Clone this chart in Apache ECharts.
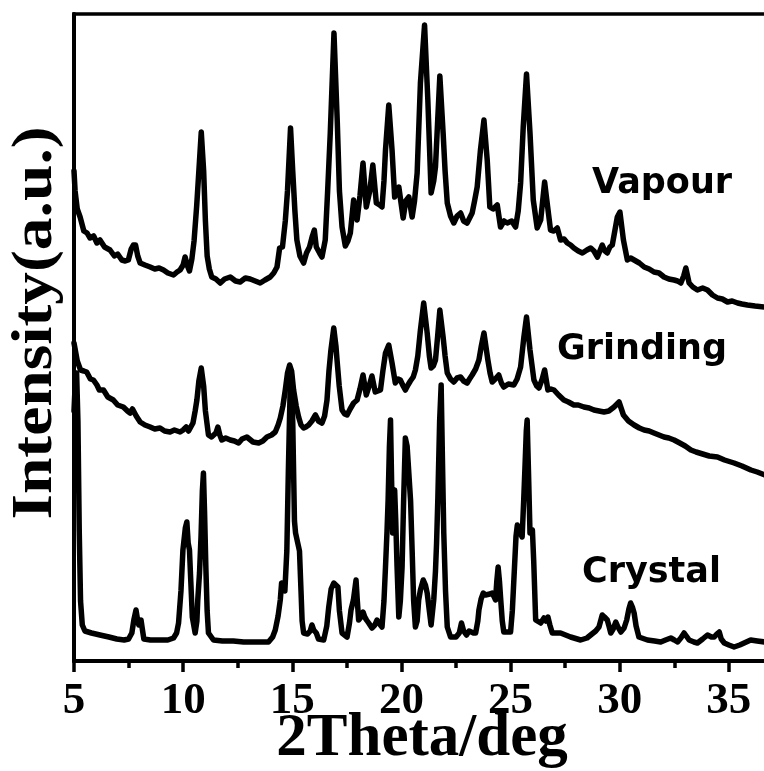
<!DOCTYPE html>
<html>
<head>
<meta charset="utf-8">
<script src="https://cdn.jsdelivr.net/npm/echarts@6/dist/echarts.min.js"></script>
<style>
  html, body { margin: 0; padding: 0; background: #fff; overflow: hidden; }
  #chart { width: 764px; height: 771px; }
</style>
</head>
<body>
<div id="chart"></div>
<script>
// Powder XRD patterns: 2θ (deg) and intensity (arbitrary units, offset per pattern)
const xTickLabels = [5, 10, 15, 20, 25, 30, 35];
const patternNames = ['Vapour', 'Grinding', 'Crystal'];

const vapourTheta = [5.00,5.05,5.15,5.28,5.45,5.6,5.73,5.9,6.05,6.19,6.4,6.65,6.85,7.0,7.19,7.35,7.49,7.62,7.72,7.82,7.92,8.03,8.25,8.49,8.7,8.9,9.1,9.3,9.56,9.72,9.86,10.0,10.09,10.2,10.29,10.40,10.50,10.62,10.72,10.83,10.94,11.02,11.10,11.2,11.31,11.5,11.7,11.9,12.16,12.4,12.61,12.85,13.07,13.3,13.53,13.75,13.99,14.15,14.3,14.42,14.55,14.68,14.78,14.92,15.02,15.12,15.21,15.35,15.52,15.65,15.79,15.92,16.01,16.1,16.25,16.36,16.51,16.62,16.74,16.91,17.06,17.16,17.28,17.43,17.55,17.66,17.81,17.9,17.97,18.1,18.24,18.39,18.55,18.69,18.85,19.0,19.11,19.2,19.27,19.42,19.57,19.69,19.8,19.88,20.08,20.2,20.34,20.49,20.6,20.72,20.87,21.06,21.21,21.36,21.48,21.56,21.66,21.76,21.91,22.0,22.1,22.25,22.4,22.55,22.71,22.85,23.01,23.24,23.35,23.47,23.62,23.78,23.93,24.05,24.2,24.39,24.54,24.7,24.85,25.05,25.23,25.35,25.46,25.58,25.73,25.89,26.04,26.22,26.38,26.56,26.66,26.83,26.98,27.14,27.29,27.45,27.6,27.75,27.9,28.1,28.29,28.5,28.67,28.82,28.98,29.2,29.32,29.43,29.55,29.66,29.89,30.01,30.17,30.35,30.5,30.66,30.9,31.12,31.35,31.57,31.8,32.03,32.25,32.49,32.65,32.8,32.93,33.03,33.18,33.35,33.56,33.8,34.02,34.25,34.48,34.7,34.94,35.15,35.4,35.6,35.85,36.2,36.65];
const vapourIntensity = [490,470,452,444,430,428,423,425,418,421,414,411,405,407,401,400,401,412,416,416,405,398,396,394,392,393,391,388,386,389,391,396,404,395,390,402,420,455,490,529,490,440,405,392,384,382,378,382,384,380,379,383,382,380,378,381,384,388,394,413,414,440,470,533,490,450,421,405,398,408,414,425,431,414,408,404,421,470,528,628,540,470,434,415,420,428,461,450,441,465,498,454,470,496,458,456,454,480,511,556,511,464,470,474,443,460,464,444,460,488,578,636,561,468,480,494,540,585,528,490,458,445,438,445,448,440,438,448,460,474,511,541,501,454,452,456,434,440,438,440,434,450,478,534,587,528,461,433,441,479,461,431,430,433,421,422,418,416,413,410,408,411,413,410,404,416,410,408,414,416,444,449,421,401,403,401,398,394,392,389,388,384,382,381,380,378,385,393,378,374,371,373,371,366,363,362,359,360,358,357,356,355,354];

const grindingTheta = [5.00,5.05,5.15,5.3,5.45,5.58,5.75,5.89,6.05,6.16,6.35,6.55,6.8,7.0,7.26,7.45,7.57,7.68,7.75,7.85,8.03,8.25,8.49,8.7,8.94,9.15,9.4,9.6,9.86,10.0,10.14,10.25,10.32,10.45,10.55,10.63,10.72,10.83,10.94,11.02,11.16,11.3,11.39,11.5,11.59,11.68,11.77,11.95,12.16,12.35,12.54,12.7,12.92,13.2,13.46,13.65,13.84,14.05,14.22,14.35,14.45,14.57,14.68,14.78,14.88,14.97,15.06,15.18,15.29,15.4,15.52,15.62,15.75,15.9,16.06,16.2,16.36,16.48,16.59,16.68,16.77,16.9,17.0,17.05,17.15,17.28,17.4,17.51,17.65,17.81,17.97,18.1,18.24,18.39,18.52,18.65,18.8,18.92,19.04,19.15,19.27,19.42,19.57,19.72,19.85,19.95,20.08,20.18,20.3,20.41,20.54,20.64,20.75,20.87,21.02,21.18,21.28,21.36,21.46,21.56,21.66,21.76,21.91,22.0,22.1,22.25,22.4,22.55,22.71,22.85,23.01,23.12,23.24,23.4,23.55,23.66,23.78,23.96,24.06,24.16,24.3,24.46,24.58,24.69,24.9,25.15,25.3,25.46,25.61,25.73,25.89,26.07,26.2,26.3,26.45,26.56,26.71,26.85,26.99,27.2,27.44,27.65,27.9,28.1,28.36,28.6,28.82,29.05,29.28,29.5,29.74,29.97,30.17,30.4,30.66,30.9,31.12,31.35,31.57,31.8,32.03,32.25,32.49,32.75,33.0,33.26,33.5,33.8,34.1,34.48,34.8,35.24,35.6,36.01,36.3,36.65];
const grindingIntensity = [318,312,300,291,290,289,282,281,276,271,271,264,261,256,254,250,248,252,253,245,239,236,234,232,233,230,229,231,229,231,234,230,228,238,250,261,280,293,275,250,226,224,223,228,234,226,221,223,221,220,218,222,224,219,218,220,224,226,229,236,243,255,271,288,296,290,271,255,244,236,233,234,236,240,246,240,238,245,261,290,311,333,315,301,275,251,247,246,252,258,261,272,286,266,275,285,269,270,271,290,308,316,298,278,282,281,275,271,276,280,284,291,305,331,358,328,305,293,295,301,325,351,324,305,288,282,279,283,284,280,278,282,286,292,301,315,328,301,288,279,282,286,278,274,277,276,282,294,324,344,311,281,275,273,282,291,271,272,271,266,261,259,256,256,254,253,251,250,249,250,254,259,246,240,236,233,231,230,228,226,224,223,221,218,215,211,209,207,205,204,201,198,195,191,189,186];

const crystalTheta = [5.00,5.06,5.12,5.18,5.24,5.30,5.38,5.5,5.8,6.19,6.6,6.96,7.3,7.5,7.65,7.75,7.84,7.92,7.97,8.07,8.13,8.2,8.5,8.94,9.3,9.56,9.7,9.79,9.9,9.99,10.1,10.17,10.23,10.29,10.35,10.42,10.55,10.63,10.67,10.75,10.82,10.88,10.93,10.98,11.04,11.1,11.16,11.39,11.8,12.3,12.77,13.3,13.91,14.1,14.22,14.35,14.45,14.51,14.57,14.66,14.75,14.82,14.9,14.95,15.02,15.1,15.15,15.25,15.33,15.4,15.45,15.52,15.7,15.82,15.9,15.98,16.1,16.2,16.44,16.58,16.67,16.78,16.9,16.98,17.09,17.16,17.28,17.51,17.62,17.69,17.8,17.92,17.98,18.04,18.15,18.24,18.32,18.4,18.5,18.65,18.78,18.88,19.0,19.11,19.2,19.27,19.34,19.39,19.45,19.5,19.55,19.6,19.65,19.69,19.74,19.8,19.88,19.95,20.03,20.1,20.18,20.26,20.34,20.42,20.49,20.56,20.64,20.72,20.79,20.87,21.0,21.1,21.18,21.28,21.36,21.48,21.56,21.61,21.67,21.75,21.82,21.88,21.94,22.02,22.1,22.25,22.5,22.65,22.75,22.85,22.98,23.1,23.17,23.3,23.4,23.5,23.55,23.65,23.75,23.85,23.93,24.05,24.16,24.25,24.31,24.37,24.43,24.49,24.54,24.62,24.69,25.0,25.08,25.18,25.25,25.31,25.4,25.53,25.6,25.66,25.72,25.76,25.82,25.89,26.0,26.06,26.15,26.38,26.53,26.62,26.71,26.8,26.91,27.29,27.75,28.21,28.5,28.67,28.9,29.05,29.2,29.3,29.43,29.52,29.59,29.7,29.82,29.92,30.05,30.2,30.32,30.42,30.5,30.58,30.66,30.75,30.88,31.27,31.6,31.88,32.1,32.34,32.5,32.65,32.8,32.95,33.05,33.18,33.4,33.56,33.8,34.02,34.2,34.33,34.45,34.56,34.65,34.79,35.0,35.24,35.5,35.7,36.0,36.3,36.65];
const crystalIntensity = [250,280,288,240,130,60,36,30,28,26,24,22,21,22,28,42,51,40,36,41,32,22,21,21,21,23,28,38,70,111,133,139,118,111,80,44,28,40,61,88,125,170,188,150,94,50,28,21,20,20,19,19,19,24,31,45,61,78,78,70,110,190,270,290,240,140,128,118,110,70,40,28,27,30,36,31,28,22,21,35,54,72,78,76,74,50,28,24,38,51,61,81,60,41,44,49,44,41,38,33,36,41,37,34,60,94,130,161,215,241,180,128,155,171,140,94,44,60,94,160,223,215,213,160,111,60,34,40,61,71,81,76,68,50,36,61,90,118,164,240,276,200,128,70,34,24,24,28,38,30,26,30,31,28,28,40,51,62,68,66,66,67,68,64,61,80,94,80,64,40,29,29,50,94,125,136,130,124,160,194,230,241,190,128,131,100,41,38,43,40,44,36,28,28,24,21,23,26,30,34,46,44,41,34,28,32,39,34,29,33,41,52,58,54,48,35,24,21,20,19,21,23,21,19,23,28,25,21,19,18,22,26,24,24,27,29,22,18,16,14,16,18,21,20,19];

const zip = (xs, ys) => xs.map((x, i) => [x, ys[i]]);

const axisColor = '#000';
const serifFamily = 'Liberation Serif';

const chart = echarts.init(document.getElementById('chart'), null, { renderer: 'canvas', width: 764, height: 771 });

const lineSeries = (name, xs, ys) => ({
  name,
  type: 'line',
  xAxisIndex: 0,
  yAxisIndex: 0,
  data: zip(xs, ys),
  showSymbol: false,
  symbol: 'none',
  smooth: false,
  lineStyle: { color: '#000', width: 5.5, join: 'round', cap: 'round' },
  animation: false
});

// The frame runs on past the right edge of the page: the 2θ scale spans 5–40,
// of which the part beyond about 36.6 falls outside the canvas.
const xRange = { type: 'value', min: 5, max: 40, interval: 5 };

const option = {
  backgroundColor: '#fff',
  animation: false,
  grid: {
    left: 74, right: -74, top: 14, bottom: 110,
    containLabel: false,
    outerBoundsMode: 'none',
    show: true,
    borderColor: axisColor,
    borderWidth: 3.5,
    backgroundColor: 'transparent'
  },
  xAxis: [
    // labelled 2θ axis
    Object.assign({}, xRange, {
      position: 'bottom',
      name: '2Theta/deg',
      nameLocation: 'middle',
      nameGap: 48,
      nameMoveOverlap: false,
      nameTextStyle: {
        color: '#000',
        fontFamily: serifFamily,
        fontWeight: 'bold',
        fontSize: 61,
        // keeps the title centred under the visible part of the frame
        padding: [0, 68, 0, 0]
      },
      axisLine: { show: true, onZero: false, lineStyle: { color: axisColor, width: 4 } },
      axisTick: { show: false },
      minorTick: { show: false },
      splitLine: { show: false },
      axisLabel: {
        margin: 18,
        color: '#000',
        fontFamily: serifFamily,
        fontWeight: 'bold',
        fontSize: 45,
        formatter: v => (xTickLabels.includes(v) ? String(v) : '')
      }
    }),
    // major and minor tick marks along the same baseline
    Object.assign({}, xRange, {
      position: 'bottom',
      offset: 0,
      axisLine: { show: false },
      axisTick: { show: true, length: 11, lineStyle: { color: axisColor, width: 3.5 } },
      minorTick: { show: true, splitNumber: 2, length: 7, lineStyle: { color: axisColor, width: 3.5 } },
      axisLabel: { show: false },
      splitLine: { show: false }
    })
  ],
  yAxis: {
    type: 'value',
    min: 0,
    max: 647,
    axisLine: { show: true, onZero: false, lineStyle: { color: axisColor, width: 4 } },
    axisTick: { show: false },
    axisLabel: { show: false },
    splitLine: { show: false }
  },
  series: [
    lineSeries(patternNames[0], vapourTheta, vapourIntensity),
    lineSeries(patternNames[1], grindingTheta, grindingIntensity),
    lineSeries(patternNames[2], crystalTheta, crystalIntensity)
  ]
};

chart.setOption(option);

// Pattern captions anchored in data coordinates (left edge, vertical middle of the word)
const captionAnchors = [
  [28.73, 477],
  [27.13, 311],
  [28.27, 88]
];
const captions = patternNames.map((name, i) => {
  const [x, y] = chart.convertToPixel({ xAxisIndex: 0, yAxisIndex: 0 }, captionAnchors[i]);
  return {
    type: 'text',
    x, y,
    silent: true,
    style: {
      text: name,
      fill: '#000',
      font: 'bold 35px "DejaVu Sans", sans-serif',
      align: 'left',
      verticalAlign: 'middle'
    }
  };
});

// Vertical axis title, drawn tall and narrow
const yTitle = {
  type: 'text',
  x: 37,
  y: 323,
  rotation: Math.PI / 2,
  scaleX: 1.17,
  silent: true,
  style: {
    text: 'Intensity(a.u.)',
    fill: '#000',
    font: 'bold 56px "Liberation Serif", serif',
    align: 'center',
    verticalAlign: 'middle'
  }
};

chart.setOption({ graphic: captions.concat([yTitle]) });
</script>
</body>
</html>
